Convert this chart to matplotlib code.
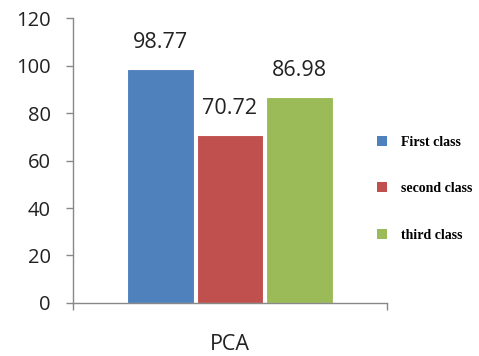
import matplotlib.pyplot as plt
from matplotlib.patches import Patch

classes = ["First class", "second class", "third class"]
values = [98.77, 70.72, 86.98]
labels = ["98.77", "70.72", "86.98"]
colors = ["#4F81BD", "#C0504D", "#9BBB59"]
category = "PCA"
yticks = [0, 20, 40, 60, 80, 100, 120]

fig = plt.figure(figsize=(4.79, 3.56), dpi=100)
ax = fig.add_axes([0.152, 0.149, 0.656, 0.800])

pos = [-1, 0, 1]
ax.bar(pos, values, width=0.96, color=colors, edgecolor="white", linewidth=0.8)

for x, v, t in zip(pos, values, labels):
    ax.annotate(t, (x, v), xytext=(0, 19), textcoords="offset points",
                ha="center", va="center", fontsize=15.5, family="Open Sans",
                color="#222222")

ax.set_xlim(-2.26, 2.26)
ax.set_ylim(0, 120)
ax.set_yticks(yticks)
ax.set_yticklabels([str(t) for t in yticks], fontsize=14.5, family="Open Sans",
                   color="#222222")
ax.set_xticks([-2.26, 2.26])
ax.set_xticklabels(["", ""])
ax.tick_params(axis="y", length=5, color="#888888", width=1, pad=11)
ax.tick_params(axis="x", length=5, color="#888888", width=1)
ax.text(0, -0.145, category, transform=ax.get_xaxis_transform(), ha="center",
        va="center", fontsize=15.5, family="Open Sans", color="#222222")

for s in ["top", "right"]:
    ax.spines[s].set_visible(False)
for s in ["left", "bottom"]:
    ax.spines[s].set_color("#888888")
    ax.spines[s].set_linewidth(1)

handles = [Patch(facecolor=c, edgecolor="none") for c in colors]
fig.legend(handles, classes, loc="center left", bbox_to_anchor=(0.76, 0.47),
           frameon=False, prop={"family": "Liberation Serif", "weight": "bold", "size": 10},
           handlelength=0.75, handleheight=0.75, labelspacing=2.4, handletextpad=1.0)

fig.savefig("out.png", dpi=100)
